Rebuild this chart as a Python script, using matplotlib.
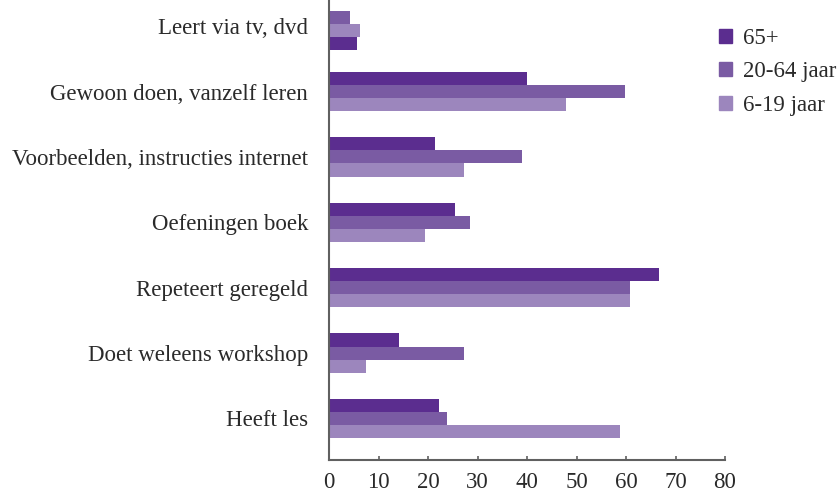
import numpy as np
import matplotlib
matplotlib.use('Agg')
import matplotlib.pyplot as plt
from matplotlib.patches import Patch

# ---------------- data ----------------
categories = ['Leert via tv, dvd', 'Gewoon doen, vanzelf leren',
              'Voorbeelden, instructies internet', 'Oefeningen boek',
              'Repeteert geregeld', 'Doet weleens workshop', 'Heeft les']
series = ['65+', '20-64 jaar', '6-19 jaar']
v_65 = [5.6, 40.0, 21.4, 25.5, 66.7, 14.1, 22.2]
v_2064 = [4.2, 59.8, 39.0, 28.5, 60.8, 27.3, 23.8]
v_619 = [6.3, 47.9, 27.3, 19.4, 60.8, 7.5, 58.8]
xticks = [0, 10, 20, 30, 40, 50, 60, 70, 80]

# in de bovenste groep staan de balken in een andere volgorde
slot_order = [[2, 0, 1]] + [[0, 1, 2]] * 6
group_shift = [-0.07] + [0.0] * 6

colors = ['#5b2d8f', '#7a5ba3', '#9c86bd']
plt.rcParams['font.family'] = ['Liberation Serif', 'DejaVu Serif']
plt.rcParams['font.size'] = 16.5
txt = '#2a2a2a'
grey = '#606060'

fig = plt.figure(figsize=(8.39, 4.92), dpi=100)
ax = fig.add_axes([329 / 839, 1 - 460 / 492, 396 / 839, 460 / 492])

n = len(categories)
h = 0.2
vals = [v_65, v_2064, v_619]
for s in range(3):
    ys = []
    for i in range(n):
        k = n - 1 - i + group_shift[i]
        slot = slot_order[i][s]
        ys.append(k + (1 - slot) * h)
    ax.barh(ys, vals[s], height=h, color=colors[s], label=series[s])

ax.set_xlim(0, 80)
ax.set_ylim(-0.635, 6.4)
ax.set_xticks(xticks)
ax.set_yticks(np.arange(n)[::-1], labels=categories)

for sp in ['top', 'right']:
    ax.spines[sp].set_visible(False)
for sp in ['left', 'bottom']:
    ax.spines[sp].set_color(grey)
    ax.spines[sp].set_linewidth(1.5)
ax.tick_params(axis='y', length=0, pad=15, colors=txt)
ax.tick_params(axis='x', direction='in', length=3, width=1.2, color=grey, pad=8.5,
               labelcolor=txt)

handles = [Patch(color=c) for c in colors]
fig.legend(handles, series, loc='upper left', bbox_to_anchor=(719 / 839, 1 - 28 / 492),
           frameon=False, borderpad=0, borderaxespad=0, handlelength=0.57,
           handleheight=0.57, handletextpad=0.48, labelspacing=0.54,
           fontsize=16.5, labelcolor=txt)

fig.savefig('out.png', dpi=100)
